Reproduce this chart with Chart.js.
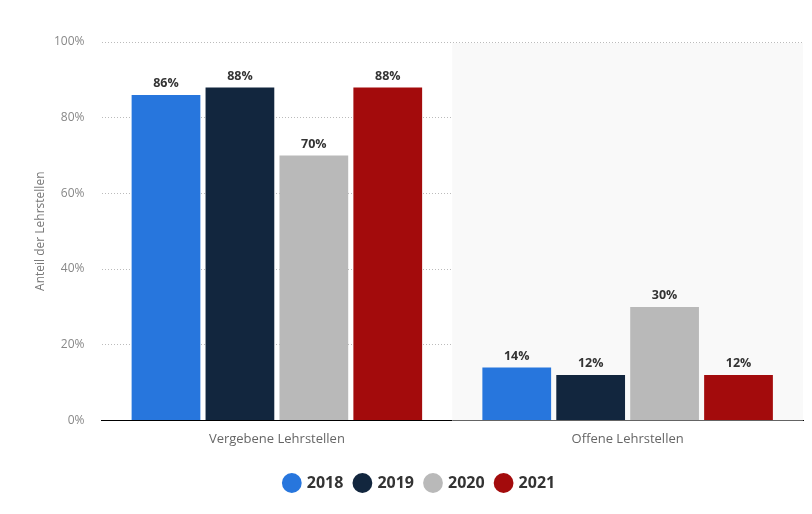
<!DOCTYPE html>
<html>
<head>
<meta charset="utf-8">
<script src="https://cdn.jsdelivr.net/npm/chart.js@4.4.1/dist/chart.umd.min.js"></script>
<style>
html,body{margin:0;padding:0;background:#fff;}
#wrap{width:812px;height:514px;position:relative;}
</style>
</head>
<body>
<div id="wrap"><canvas id="c"></canvas></div>
<script>
const categories = ["Vergebene Lehrstellen", "Offene Lehrstellen"];
const seriesLabels = ["2018", "2019", "2020", "2021"];
const values2018 = [86, 14];
const values2019 = [88, 12];
const values2020 = [70, 30];
const values2021 = [88, 12];
const colors = ["#2776dd", "#12263e", "#b9b9b9", "#a30b0c"];
const yTicks = [0, 20, 40, 60, 80, 100];
const yTitle = "Anteil der Lehrstellen";

const FONT = "'Open Sans', 'DejaVu Sans', sans-serif";

const shadePlugin = {
  id: 'shade',
  beforeDatasetsDraw(chart) {
    const {ctx, chartArea, scales} = chart;
    const x = scales.x;
    const step = x.getPixelForValue(1) - x.getPixelForValue(0);
    const left = x.getPixelForValue(1) - step / 2;
    ctx.save();
    ctx.fillStyle = '#f9f9f9';
    ctx.fillRect(left, chartArea.top + 1, chartArea.right - left, chartArea.bottom - chartArea.top - 1);
    ctx.restore();
  }
};

const labelPlugin = {
  id: 'barLabels',
  afterDatasetsDraw(chart) {
    const {ctx, chartArea} = chart;
    ctx.save();
    ctx.font = "bold 12.5px " + FONT;
    ctx.fillStyle = '#333333';
    ctx.textAlign = 'center';
    ctx.textBaseline = 'bottom';
    chart.data.datasets.forEach((ds, i) => {
      const meta = chart.getDatasetMeta(i);
      meta.data.forEach((bar, j) => {
        ctx.fillText(ds.data[j] + '%', bar.x, bar.y - 5);
      });
    });
    // y-axis title
    ctx.font = "12px " + FONT;
    ctx.fillStyle = '#777777';
    ctx.textBaseline = 'middle';
    ctx.translate(41, (chartArea.top + chartArea.bottom) / 2);
    ctx.rotate(-Math.PI / 2);
    ctx.fillText(yTitle, 0, 0);
    ctx.restore();
  }
};

const allValues = [values2018, values2019, values2020, values2021];

new Chart(document.getElementById('c'), {
  type: 'bar',
  data: {
    labels: categories,
    datasets: seriesLabels.map((l, i) => ({
      label: l,
      data: allValues[i],
      backgroundColor: colors[i],
      borderWidth: 0,
      categoryPercentage: 0.843,
      barPercentage: 0.93
    }))
  },
  options: {
    responsive: true,
    maintainAspectRatio: false,
    animation: false,
    devicePixelRatio: 1,
    layout: {padding: {top: 42, right: 9, left: 37, bottom: 13}},
    plugins: {
      tooltip: {enabled: false},
      legend: {
        position: 'bottom',
        labels: {
          usePointStyle: true,
          pointStyle: 'circle',
          boxWidth: 14,
          boxHeight: 14,
          padding: 12,
          color: '#333333',
          font: {family: FONT, size: 16, weight: 'bold'}
        }
      }
    },
    scales: {
      x: {
        grid: {display: false},
        border: {display: true, color: '#000000', width: 1},
        ticks: {color: '#666666', font: {family: FONT, size: 13}, padding: 3},
        afterFit(scale) { scale.height += 13; }
      },
      y: {
        min: 0, max: 100,
        afterBuildTicks(axis) { axis.ticks = yTicks.map(v => ({value: v})); },
        border: {display: false, dash: [1, 2]},
        grid: {color: '#bbbbbb', drawTicks: false, lineWidth: 1},
        ticks: {
          color: '#888888',
          font: {family: FONT, size: 12},
          padding: 17,
          callback: v => v + '%'
        }
      }
    }
  },
  plugins: [shadePlugin, labelPlugin]
});
</script>
</body>
</html>
